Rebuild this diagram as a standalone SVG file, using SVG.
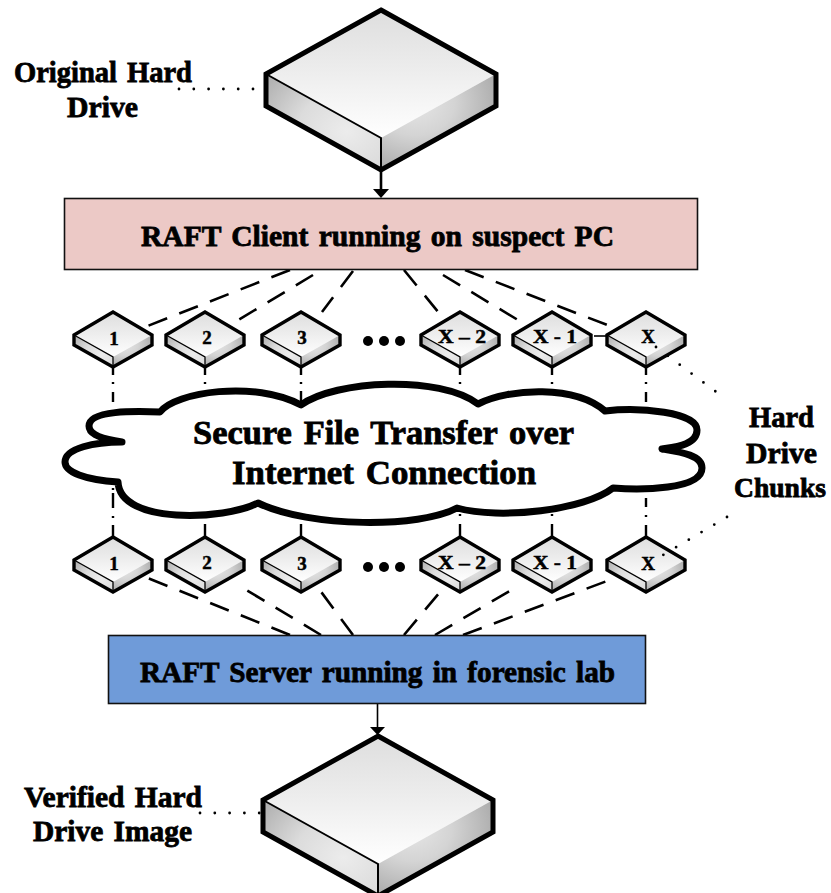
<svg xmlns="http://www.w3.org/2000/svg" width="831" height="893" viewBox="0 0 831 893">
<style>
text{font-family:"Liberation Serif","DejaVu Serif",serif;font-weight:700;fill:#000;stroke:#000;stroke-width:.8;word-spacing:3px}
.lg{font-size:30px}
.sm{font-size:19px;text-anchor:middle;stroke-width:.5;word-spacing:0}
.line{fill:none;stroke:#000}
.dash{stroke-width:2.6;stroke-dasharray:20 13}
.dd{stroke-width:2.4}
.dots{stroke-width:2.8;stroke-linecap:round;stroke-dasharray:0 14.8}
.box{stroke:#111;stroke-width:1.6}
.out{fill:none;stroke:#000;stroke-linejoin:miter}
.in{fill:none;stroke:#000}
</style>
<defs>
<linearGradient id="gt" x1="0" y1="0" x2="0" y2="1"><stop offset="0" stop-color="#dedede"/><stop offset=".45" stop-color="#ececec"/><stop offset="1" stop-color="#ffffff"/></linearGradient>
<radialGradient id="gl" cx=".7" cy=".6" r=".85"><stop offset="0" stop-color="#ececec"/><stop offset=".5" stop-color="#dcdcdc"/><stop offset="1" stop-color="#b2b2b2"/></radialGradient>
<radialGradient id="gr" cx=".3" cy=".3" r=".85"><stop offset="0" stop-color="#e6e6e6"/><stop offset=".4" stop-color="#d4d4d4"/><stop offset="1" stop-color="#a0a0a0"/></radialGradient>
<g id="big">
<path d="M0 0L115 64L0 128L-115 64Z" fill="url(#gt)"/>
<path d="M-115 64L0 128V160L-115 96Z" fill="url(#gl)"/>
<path d="M115 64L0 128V160L115 96Z" fill="url(#gr)"/>
<path class="in" stroke-width="2" d="M-115 64L0 128V160"/>
<path class="out" stroke-width="5" d="M0 0L115 64V96L0 160L-115 96V64Z"/>
</g>
<g id="small">
<path d="M0 0L39 23L0 45L-39 23Z" fill="url(#gt)"/>
<path d="M-39 23L0 45V55L-39 33Z" fill="url(#gl)"/>
<path d="M39 23L0 45V55L39 33Z" fill="url(#gr)"/>
<path class="in" stroke-width="1.3" d="M-39 23L0 45V55"/>
<path class="out" stroke-width="3.4" d="M0 0L39 23V33L0 55L-39 33V23Z"/>
</g>
</defs>

<g id="connectors">
<path class="line" stroke-width="2.6" d="M381 170V190"/>
<path d="M373 189H389L381 198Z"/>
<path class="line" stroke-width="1.6" d="M377.5 704V728"/>
<path d="M370 727H385L377.5 735Z"/>
<path class="line dash" d="M290 270L145 327M313 275L235 322M353 271L322 312M404 270L439 313M443 275L523 323M465 270L615 328"/>
<path class="line dash" d="M290 635L145 577M321 635L243 588M353 635L319 589M404 635L440 592M435 635L513 589M463 635L615 578"/>
<path class="line dd" d="M113 367V375M113 382V384M113 392V402M205 367V375M205 382V384M301 367V375M301 382V384M301 391V403M460 367V375M460 382V384M552 367V375M552 382V384M646 367V375M646 382V384M646 392V402"/>
<path class="line dd" d="M113 488V490M113 493V508M113 516V518M113 525V536M205 524V536M301 524V536M460 514V516M460 524V536M552 514V516M552 524V536M646 498V507M646 515V517M646 525V536"/>
<path class="line" stroke-width="1.6" d="M594 336H608"/>
</g>

<g id="node-original"><use href="#big" x="381" y="10"/></g>
<g id="node-verified"><use href="#big" x="378" y="736"/></g>

<g id="node-client"><rect class="box" x="64.500" y="198.500" width="633" height="71" fill="#ecc9c6"/><text class="lg" x="141" y="246" textLength="473" lengthAdjust="spacingAndGlyphs">RAFT Client running on suspect PC</text></g>
<g id="node-server"><rect class="box" x="108.500" y="635.500" width="537" height="68" fill="#6f9bd9"/><text class="lg" x="140" y="682" textLength="475" lengthAdjust="spacingAndGlyphs">RAFT Server running in forensic lab</text></g>

<g id="node-top-1"><use href="#small" x="113" y="312"/><text class="sm" x="114" y="345">1</text></g>
<g id="node-top-2"><use href="#small" x="205" y="312"/><text class="sm" x="207" y="344">2</text></g>
<g id="node-top-3"><use href="#small" x="301" y="312"/><text class="sm" x="302" y="344">3</text></g>
<g id="node-top-x2"><use href="#small" x="460" y="312"/><text class="sm" x="462" y="343" textLength="48" lengthAdjust="spacingAndGlyphs">X – 2</text></g>
<g id="node-top-x1"><use href="#small" x="552" y="312"/><text class="sm" x="555" y="343" textLength="44" lengthAdjust="spacingAndGlyphs">X - 1</text></g>
<g id="node-top-x"><use href="#small" x="646" y="312"/><text class="sm" x="648" y="343">X</text></g>

<g id="node-bot-1"><use href="#small" x="113" y="537"/><text class="sm" x="114" y="570">1</text></g>
<g id="node-bot-2"><use href="#small" x="205" y="537"/><text class="sm" x="207" y="569">2</text></g>
<g id="node-bot-3"><use href="#small" x="301" y="537"/><text class="sm" x="302" y="570">3</text></g>
<g id="node-bot-x2"><use href="#small" x="460" y="537"/><text class="sm" x="462" y="569" textLength="48" lengthAdjust="spacingAndGlyphs">X – 2</text></g>
<g id="node-bot-x1"><use href="#small" x="552" y="537"/><text class="sm" x="555" y="569" textLength="44" lengthAdjust="spacingAndGlyphs">X - 1</text></g>
<g id="node-bot-x"><use href="#small" x="646" y="537"/><text class="sm" x="648" y="570">X</text></g>

<g id="ellipsis-top"><circle cx="368" cy="341" r="5"/><circle cx="384" cy="341" r="5"/><circle cx="400" cy="341" r="5"/></g>
<g id="ellipsis-bottom"><circle cx="368" cy="567" r="5"/><circle cx="384" cy="567" r="5"/><circle cx="400" cy="567" r="5"/></g>

<g id="node-cloud">
<path fill="#fff" stroke="#000" stroke-width="7" stroke-linejoin="round" d="M160 412C175 392 255 380 301 405C335 380 440 375 478 404C510 388 575 385 605 411C640 407 697 412 697 430C697 445 675 447 662 449C680 452 702 455 702 468C702 490 640 490 613 488C585 510 500 520 457 508C420 528 310 528 258 503C225 520 120 525 118 482C85 480 65 472 65 462C65 448 95 442 122 442C95 438 89 432 89 426C89 410 135 411 160 412Z"/>
<text class="lg" x="193" y="444" textLength="381" lengthAdjust="spacingAndGlyphs" style="font-size:33px">Secure File Transfer over</text>
<text class="lg" x="232" y="484" textLength="304" lengthAdjust="spacingAndGlyphs" style="font-size:33px">Internet Connection</text>
</g>

<g id="connectors-dotted">
<path class="line dots" d="M179 89H258"/>
<path class="line dots" d="M200 813H262"/>
<path class="line dots" d="M656 347L727 400"/>
<path class="line dots" d="M727 517L663 555"/>
</g>

<g id="label-original"><text class="lg" x="14" y="82" textLength="178" lengthAdjust="spacingAndGlyphs">Original Hard</text><text class="lg" x="67" y="117" textLength="71" lengthAdjust="spacingAndGlyphs">Drive</text></g>
<g id="label-verified"><text class="lg" x="24" y="807" textLength="178" lengthAdjust="spacingAndGlyphs">Verified Hard</text><text class="lg" x="33" y="841" textLength="159" lengthAdjust="spacingAndGlyphs">Drive Image</text></g>
<g id="label-chunks"><text class="lg" x="749" y="427" textLength="65" lengthAdjust="spacingAndGlyphs">Hard</text><text class="lg" x="746" y="463" textLength="71" lengthAdjust="spacingAndGlyphs">Drive</text><text class="lg" x="734" y="497" textLength="92" lengthAdjust="spacingAndGlyphs" style="font-size:28px">Chunks</text></g>
</svg>
